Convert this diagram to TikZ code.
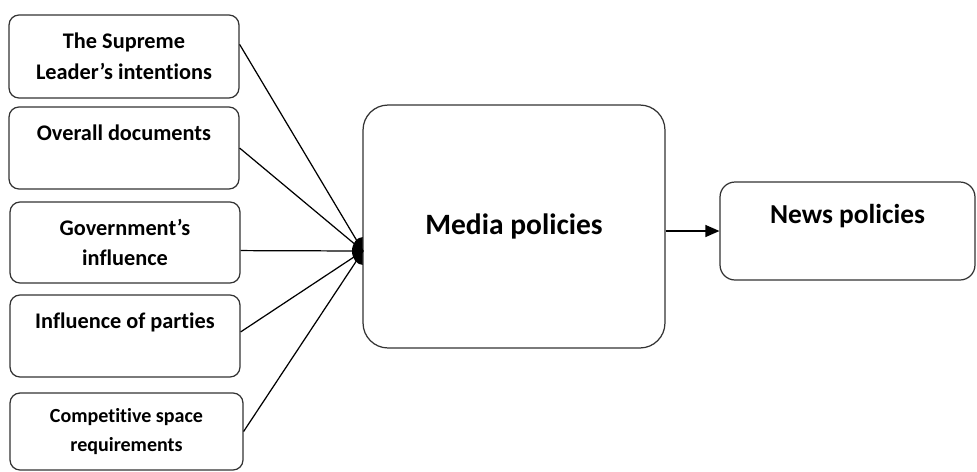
\documentclass[tikz,border=0pt]{standalone}
\usepackage{fontspec}
\setmainfont[Ligatures=NoCommon]{Carlito}
\usetikzlibrary{arrows.meta}

\begin{document}
\begin{tikzpicture}[x=0.02cm,y=-0.02cm,
  factor/.style={draw=black!80,line width=0.7pt,rounded corners=0.2cm,
    minimum width=4.6cm,inner sep=0pt,align=center,
    font=\bfseries\fontsize{12.7}{17.5}\selectfont},
  policy/.style={draw=black!80,line width=0.7pt,inner sep=0pt,align=center,
    fill=white},
  link/.style={line width=0.7pt}]
\useasboundingbox (0,0) rectangle (977,471);

\coordinate (hub) at (363,251);
\fill (hub) ++(0,-14) arc[start angle=90,end angle=270,x radius=0.22cm,y radius=0.28cm] -- cycle;

\node[factor,minimum height=1.66cm] (lead) at (124,56.5) {The Supreme\\Leader's intentions};
\node[factor,minimum height=1.64cm] (docs) at (124,148) {Overall documents\\\mbox{}};
\node[factor,minimum height=1.62cm] (govt) at (125,242.5) {Government's\\influence};
\node[factor,minimum height=1.64cm] (party) at (125,336) {Influence of parties\\\mbox{}};
\node[factor,minimum height=1.54cm,minimum width=4.66cm,
  font=\bfseries\fontsize{11.4}{16}\selectfont] (comp) at (126.5,431.5) {Competitive space\\requirements};

\node[policy,rounded corners=0.5cm,minimum width=6.04cm,minimum height=4.86cm,
  font=\bfseries\fontsize{16.8}{20}\selectfont] (media) at (514,226.5) {Media policies};
\node[policy,rounded corners=0.3cm,minimum width=5.1cm,minimum height=1.96cm,
  font=\bfseries\fontsize{15.6}{20}\selectfont] (news) at (847.5,231) {News policies\\\mbox{}};

\draw[link] (lead.6) -- (hub);
\draw[link] (docs.east) -- (hub);
\draw[link] (govt.-4) -- (hub);
\draw[link] (party.2) -- (hub);
\draw[link] (comp.east) -- (hub);
\draw[link,-{Triangle[length=0.28cm,width=0.24cm]}] (media.east |- news.west) -- (news.west);

\end{tikzpicture}
\end{document}
